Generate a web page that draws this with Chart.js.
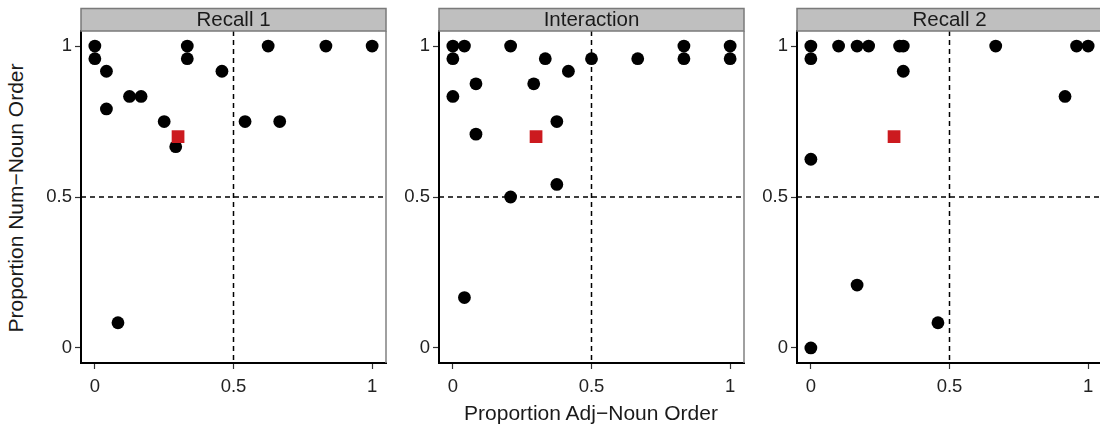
<!DOCTYPE html>
<html lang="en">
<head>
<meta charset="UTF-8">
<title>proportion order facets</title>
<style>
  html, body { margin: 0; padding: 0; background: #fff; overflow: hidden; }
  body { width: 1100px; height: 428px; position: relative; font-family: "Liberation Sans", Arial, sans-serif; }
  .panel { position: absolute; top: 0; }
  .ytitle { position: absolute; left: 16px; top: 198px; transform: translate(-50%, -50%) rotate(-90deg); white-space: nowrap; font-size: 21px; color: #1a1a1a; }
  .xtitle { position: absolute; left: 591px; top: 413px; transform: translate(-50%, -50%); white-space: nowrap; font-size: 21px; color: #1a1a1a; }
</style>
</head>
<body>
  <canvas class="panel" id="p1"></canvas>
  <canvas class="panel" id="p2"></canvas>
  <canvas class="panel" id="p3"></canvas>
  <div class="ytitle">Proportion Num−Noun Order</div>
  <div class="xtitle">Proportion Adj−Noun Order</div>

<script src="https://cdn.jsdelivr.net/npm/chart.js"></script>
<script>
  // panel names
  let panelNames = ["Recall 1", "Interaction", "Recall 2"];
  let tickValues = [0, 0.5, 1];

  // Recall 1
  let recall1X = [0, 0, 0.0417, 0.125, 0.1667, 0.0417, 0.25, 0.2917, 0.3333, 0.3333, 0.4583, 0.625, 0.5417, 0.6667, 0.8333, 1, 0.0833];
  let recall1Y = [1, 0.9583, 0.9167, 0.8333, 0.8333, 0.7917, 0.75, 0.6667, 1, 0.9583, 0.9167, 1, 0.75, 0.75, 1, 1, 0.0833];

  // Interaction
  let interactionX = [0, 0, 0.0417, 0, 0.0833, 0.0833, 0.2083, 0.2083, 0.2917, 0.3333, 0.375, 0.375, 0.4167, 0.5, 0.6667, 0.8333, 0.8333, 1, 1, 0.0417];
  let interactionY = [1, 0.9583, 1, 0.8333, 0.875, 0.7083, 1, 0.5, 0.875, 0.9583, 0.75, 0.5417, 0.9167, 0.9583, 0.9583, 1, 0.9583, 1, 0.9583, 0.1667];

  // Recall 2
  let recall2X = [0, 0, 0, 0.1, 0.1667, 0.2083, 0.32, 0.3333, 0.3333, 0.6667, 0.9167, 0.9583, 1, 0.1667, 0.4583, 0];
  let recall2Y = [1, 0.9583, 0.625, 1, 1, 1, 1, 1, 0.9167, 1, 0.8333, 1, 1, 0.2083, 0.0833, 0];

  // mean point per panel (red square)
  let meanX = [0.3, 0.3, 0.3];
  let meanY = [0.7, 0.7, 0.7];

  let panelX = [recall1X, interactionX, recall2X];
  let panelY = [recall1Y, interactionY, recall2Y];

  const FONT = '"Liberation Sans", Arial, sans-serif';
  const canvasLeft = [31, 389, 747];
  const yAxisW = 50, padR = 12, padTop = 31, xAxisH = 65;
  const plotW = 305;

  const decor = {
    id: 'decor',
    beforeDatasetsDraw(chart) {
      const ctx = chart.ctx, a = chart.chartArea;
      const x5 = chart.scales.x.getPixelForValue(0.5);
      const y5 = chart.scales.y.getPixelForValue(0.5);
      ctx.save();
      ctx.strokeStyle = '#000';
      ctx.lineWidth = 1.5;
      ctx.setLineDash([5, 4]);
      ctx.beginPath();
      ctx.moveTo(x5, a.top); ctx.lineTo(x5, a.bottom);
      ctx.moveTo(a.left, y5); ctx.lineTo(a.right, y5);
      ctx.stroke();
      ctx.restore();
    },
    afterDraw(chart, args, opts) {
      const ctx = chart.ctx, a = chart.chartArea;
      ctx.save();
      // gray right panel border
      ctx.strokeStyle = '#808080';
      ctx.lineWidth = 1.5;
      ctx.beginPath();
      ctx.moveTo(a.right, a.top); ctx.lineTo(a.right, a.bottom);
      ctx.stroke();
      // strip
      ctx.fillStyle = '#bfbfbf';
      ctx.fillRect(a.left, 8.5, a.right - a.left, a.top - 8.5);
      ctx.strokeStyle = '#7a7a7a';
      ctx.strokeRect(a.left, 8.5, a.right - a.left, a.top - 8.5);
      ctx.fillStyle = '#1a1a1a';
      ctx.font = '20.5px ' + FONT;
      ctx.textAlign = 'center';
      ctx.textBaseline = 'middle';
      ctx.fillText(opts.label, (a.left + a.right) / 2, (8.5 + a.top) / 2 + 1);
      ctx.restore();
    }
  };

  function makeAxis(isX) {
    return {
      type: 'linear',
      min: -0.05,
      max: 1.05,
      afterBuildTicks(scale) { scale.ticks = tickValues.map(v => ({ value: v })); },
      afterFit(scale) { if (isX) scale.height = xAxisH; else scale.width = yAxisW; },
      grid: { drawOnChartArea: false, drawTicks: true, tickLength: 6, tickColor: '#333', tickWidth: 1.2 },
      border: { display: true, color: '#000', width: 2 },
      ticks: {
        color: '#222',
        padding: isX ? 7 : 3,
        font: { family: FONT, size: 18.5 },
        callback: v => String(v)
      }
    };
  }

  panelNames.forEach((name, i) => {
    const cv = document.getElementById('p' + (i + 1));
    const w = yAxisW + plotW + padR;
    cv.style.left = canvasLeft[i] + 'px';
    cv.style.width = w + 'px';
    cv.style.height = '428px';
    cv.width = w; cv.height = 428;

    const pts = panelX[i].map((x, k) => ({ x: x, y: panelY[i][k] }));

    new Chart(cv, {
      type: 'scatter',
      data: {
        datasets: [
          {
            label: 'mean',
            data: [{ x: meanX[i], y: meanY[i] }],
            pointStyle: 'rect',
            pointRadius: 9,
            pointBorderWidth: 0,
            backgroundColor: '#cc1a1f',
            order: 0
          },
          {
            label: name,
            data: pts,
            pointRadius: 6.4,
            pointBorderWidth: 0,
            backgroundColor: '#000',
            order: 1
          }
        ]
      },
      options: {
        responsive: false,
        animation: false,
        layout: { padding: { top: padTop, right: padR, bottom: 0, left: 0 } },
        plugins: {
          legend: { display: false },
          tooltip: { enabled: false },
          decor: { label: name }
        },
        scales: { x: makeAxis(true), y: makeAxis(false) }
      },
      plugins: [decor]
    });
  });
</script>
</body>
</html>
